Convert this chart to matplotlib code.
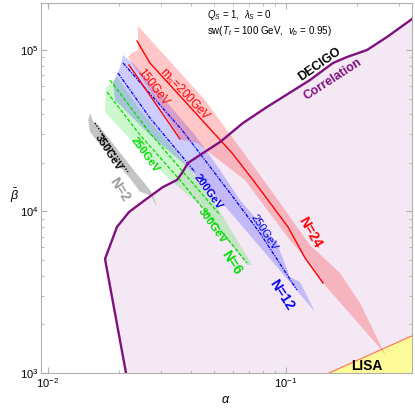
"""Phase-transition parameter space (alpha, beta-bar) with correlation / LISA regions."""

import numpy as np
import matplotlib
matplotlib.use("Agg")
import matplotlib.pyplot as plt
from matplotlib.ticker import LogLocator, NullFormatter

plt.rcParams["font.family"] = ["Liberation Sans", "DejaVu Sans"]
plt.rcParams["mathtext.fontset"] = "custom"
plt.rcParams["mathtext.rm"] = "Liberation Sans"
plt.rcParams["mathtext.it"] = "Liberation Sans:italic"

# correlation (DECIGO) boundary
corr_alpha = [0.02133, 0.01741, 0.01954, 0.02196, 0.02564, 0.03050, 0.0349, 0.03667,
              0.03886, 0.04493, 0.05297, 0.06616, 0.08342, 0.0974, 0.1265, 0.158,
              0.1810, 0.2196, 0.2665, 0.3394]
corr_beta = [1000, 5080, 8017, 9930, 11780, 14180, 15670, 17310, 19970, 23020, 26930,
             35320, 44370, 51170, 65200, 83100, 90500, 100000, 120400, 155600]

# LISA edge
lisa_alpha = [0.152, 0.34]
lisa_beta = [1000, 1700]

# N=24 band and lines
n24_alpha = [0.02395, 0.04581, 0.08185, 0.09934, 0.1265, 0.1691, 0.2052, 0.2538, 0.2665,
             0.2489, 0.1435, 0.1229, 0.1042, 0.07953, 0.06745, 0.04239, 0.03667,
             0.02175, 0.02261, 0.02395]
n24_beta = [140800, 49010, 15230, 10220, 6201, 4162, 2713, 1428, 1256,
            1428, 3608, 5008, 6660, 11290, 15670, 26550, 27710,
            90500, 95800, 100000]
n24_m200_alpha = [0.02372, 0.02690, 0.05950, 0.07290, 0.1023, 0.1206, 0.1435]
n24_m200_beta = [113700, 83100, 23030, 15670, 8017, 5153, 3608]
n24_m150_alpha = [0.02196, 0.03596]
n24_m150_beta = [80740, 28110]

# N=12 band and lines
n12_alpha = [0.02072, 0.02326, 0.03111, 0.04158, 0.05297, 0.06427, 0.09192, 0.1042,
             0.1148, 0.1328, 0.07798, 0.05144, 0.03703, 0.02690, 0.01918, 0.01882, 0.02012]
n12_beta = [93110, 80740, 49010, 29770, 18070, 11780, 6383, 3929,
            3660, 2387, 6029, 12300, 19970, 29770, 49010, 62480, 78470]
n12_m250_alpha = [0.02072, 0.03667, 0.05834, 0.07798, 0.1115]
n12_m250_beta = [83100, 31960, 13020, 7360, 3266]
n12_m200_alpha = [0.01974, 0.02690, 0.04158]
n12_m200_beta = [72030, 37930, 17560]

# N=6 band and lines
n6_alpha = [0.01955, 0.02442, 0.03426, 0.04949, 0.07220, 0.06879, 0.04364, 0.03202,
            0.02442, 0.01741, 0.01758]
n6_beta = [68040, 42510, 24040, 11780, 4664, 4664, 10970, 16120, 24040, 41310, 58170]
n6_m250_alpha = [0.01827, 0.02690, 0.03962, 0.05297]
n6_m250_beta = [65200, 30630, 15670, 9513]
n6_m300_alpha = [0.01775, 0.02442, 0.03596, 0.06879]
n6_m300_beta = [54950, 29770, 15670, 4799]

# N=2 band and line
n2_alpha = [0.01505, 0.01554, 0.01632, 0.01827, 0.02078, 0.02326, 0.02522, 0.02690,
            0.02823, 0.02871, 0.02735, 0.02606, 0.02442, 0.02217, 0.02012, 0.01741,
            0.01580, 0.01505, 0.01481]
n2_beta = [40550, 35970, 34320, 27710, 21840, 17640, 15290, 13590, 11780, 10710,
           12350, 12830, 13260, 16060, 18950, 24620, 28400, 31200, 36860]
n2_m350_alpha = [0.01580, 0.02175]
n2_m350_beta = [35320, 17560]

fig = plt.figure(figsize=(4.15, 4.11), dpi=100)
ax = fig.add_axes([0.0988, 0.0925, 0.8932, 0.9002])
ax.set_xscale("log")
ax.set_yscale("log")
ax.set_xlim(0.009372, 0.3384)
ax.set_ylim(1000, 195500)

# correlation region
ax.fill(corr_alpha + [0.4, 0.4], corr_beta + [155600, 1000],
        color="#f4e8f4", lw=0, zorder=1)
# LISA region
ax.fill(lisa_alpha + [0.34], lisa_beta + [1000], color="#fdfb99", lw=0, zorder=2)
ax.plot(lisa_alpha, lisa_beta, color="#ff7050", lw=0.8, zorder=2)

# bands
ax.fill(n2_alpha, n2_beta, color="#c4c4c4", lw=0, zorder=3)
ax.fill(n6_alpha, n6_beta, color=(0.0, 0.85, 0.0), alpha=0.2, lw=0, zorder=3)
ax.fill(n12_alpha, n12_beta, color=(0.0, 0.0, 1.0), alpha=0.2, lw=0, zorder=3)
ax.fill(n24_alpha, n24_beta, color=(1.0, 0.0, 0.0), alpha=0.22, lw=0, zorder=3)

# lines
ax.plot(n2_m350_alpha, n2_m350_beta, color="black", ls=(0, (1, 1.2)), lw=1.0, zorder=4)
ax.plot(n6_m250_alpha, n6_m250_beta, color="#00dd00", ls=(0, (3, 1.5)), lw=0.9, zorder=4)
ax.plot(n6_m300_alpha, n6_m300_beta, color="#00dd00", ls=(0, (3, 1.5)), lw=0.9, zorder=4)
ax.plot(n12_m200_alpha, n12_m200_beta, color="#0000ff", ls=(0, (3, 1, 1, 1)), lw=0.9, zorder=4)
ax.plot(n12_m250_alpha, n12_m250_beta, color="#0000ff", ls=(0, (3, 1, 1, 1)), lw=0.9, zorder=4)
ax.plot(n24_m150_alpha, n24_m150_beta, color="#ff0000", lw=1.0, zorder=4)
ax.plot(n24_m200_alpha, n24_m200_beta, color="#ff0000", lw=1.0, zorder=4)

ax.plot(corr_alpha, corr_beta, color="#80107f", lw=1.7, zorder=5)

# labels
ax.text(0.0965, 3041, "N=12", color="#0000ee", fontsize=10, fontweight="bold",
        rotation=-57, ha="center", va="center", zorder=6)
ax.text(0.1265, 7464, "N=24", color="#ff0000", fontsize=10, fontweight="bold",
        rotation=-60, ha="center", va="center", zorder=6)
ax.text(0.0595, 4799, "N=6", color="#00dd00", fontsize=10, fontweight="bold",
        rotation=-57, ha="center", va="center", zorder=6)
ax.text(0.02012, 13590, "N=2", color="#999999", fontsize=10, fontweight="bold",
        rotation=-57, ha="center", va="center", zorder=6)
ax.text(0.01792, 23030, "350GeV", color="black", fontsize=8, fontweight="bold",
        rotation=-57, ha="center", va="center", zorder=6)
ax.text(0.02564, 22380, "250GeV", color="#00dd00", fontsize=8, fontweight="bold",
        rotation=-54, ha="center", va="center", zorder=6)
ax.text(0.04901, 8131, "300GeV", color="#00dd00", fontsize=8, fontweight="bold",
        rotation=-54, ha="center", va="center", zorder=6)
ax.text(0.04715, 13200, "200GeV", color="#0000ee", fontsize=8, fontweight="bold",
        rotation=-54, ha="center", va="center", zorder=6)
ax.text(0.08108, 7464, "250GeV", color="#0000ee", fontsize=8,
        rotation=-57, ha="center", va="center", zorder=6)
ax.text(0.02769, 59010, "150GeV", color="#ff0000", fontsize=8.5,
        rotation=-52, ha="center", va="center", zorder=6)
ax.text(0.03775, 52650, r"m$_\mathregular{S}$=200GeV", color="#ff0000", fontsize=8.5,
        rotation=-47, ha="center", va="center", zorder=6)
ax.text(0.1393, 81900, "DECIGO", color="black", fontsize=9, fontweight="bold",
        rotation=35, ha="center", va="center", zorder=6)
ax.text(0.158, 66140, "Correlation", color="#80107f", fontsize=9, fontweight="bold",
        rotation=33, ha="center", va="center", zorder=6)
ax.text(0.2196, 1105, "LISA", color="black", fontsize=10, fontweight="bold",
        ha="center", va="center", zorder=6)

ax.text(0.448, 0.967, r"$Q_S$ = 1,  $\lambda_S$ = 0", transform=ax.transAxes,
        fontsize=7, ha="left", va="center", zorder=6)
ax.text(0.448, 0.924, r"sw($T_t$ = 100 GeV,  $v_b$ = 0.95)", transform=ax.transAxes,
        fontsize=7, ha="left", va="center", zorder=6)

# frame and ticks
for sp in ax.spines.values():
    sp.set_color("#b0b0b0")
    sp.set_linewidth(0.8)
ax.xaxis.set_major_locator(LogLocator(base=10, numticks=10))
ax.yaxis.set_major_locator(LogLocator(base=10, numticks=10))
ax.xaxis.set_minor_locator(LogLocator(base=10, subs=np.arange(2, 10), numticks=20))
ax.yaxis.set_minor_locator(LogLocator(base=10, subs=np.arange(2, 10), numticks=20))
ax.xaxis.set_minor_formatter(NullFormatter())
ax.yaxis.set_minor_formatter(NullFormatter())
ax.tick_params(which="both", direction="in", top=True, right=True, color="#b0b0b0",
               labelsize=8, pad=2)
ax.tick_params(which="major", length=4)
ax.tick_params(which="minor", length=2)

ax.set_xlabel(r"$\alpha$", fontsize=9)
ax.xaxis.set_label_coords(0.499, -0.058)
ax.set_ylabel(r"$\bar{\beta}$", fontsize=9, rotation=0)
ax.yaxis.set_label_coords(-0.07, 0.455)

fig.savefig("out.png", dpi=100)
